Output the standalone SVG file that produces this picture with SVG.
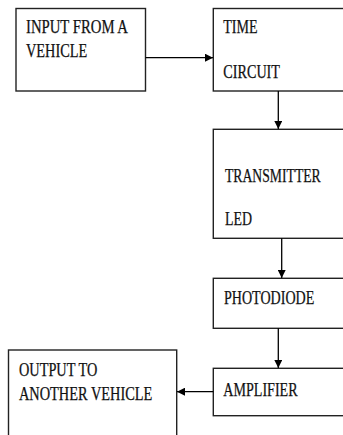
<svg xmlns="http://www.w3.org/2000/svg" width="343" height="435" viewBox="0 0 343 435">
<style>
.box{fill:#fff;stroke:#222;stroke-width:1.4}
.t{font-family:"Liberation Serif","Times New Roman",serif;font-size:18px;fill:#111;stroke:#111;stroke-width:0.25}
.c{stroke:#000;stroke-width:1.3;fill:none}
</style>
<defs>
<marker id="ah" viewBox="0 0 10 10" refX="10" refY="5" markerWidth="8" markerHeight="8" markerUnits="userSpaceOnUse" orient="auto">
<path d="M0,0 L10,5 L0,10 z" fill="#000"/>
</marker>
</defs>
<rect width="343" height="435" fill="#fff"/>
<g id="input">
<rect class="box" x="16" y="8.5" width="129.5" height="82.5"/>
<text class="t" x="26" y="33.3" textLength="102" lengthAdjust="spacingAndGlyphs">INPUT FROM A</text>
<text class="t" x="26" y="57.3" textLength="61.3" lengthAdjust="spacingAndGlyphs">VEHICLE</text>
</g>
<g id="time">
<rect class="box" x="213.3" y="8.5" width="140" height="82.5"/>
<text class="t" x="223.3" y="33.3" textLength="34.3" lengthAdjust="spacingAndGlyphs">TIME</text>
<text class="t" x="223.3" y="77.7" textLength="56.7" lengthAdjust="spacingAndGlyphs">CIRCUIT</text>
</g>
<g id="transmitter">
<rect class="box" x="213.3" y="129.3" width="140" height="109"/>
<text class="t" x="225" y="181.7" textLength="95.7" lengthAdjust="spacingAndGlyphs">TRANSMITTER</text>
<text class="t" x="225" y="225" textLength="27" lengthAdjust="spacingAndGlyphs">LED</text>
</g>
<g id="photodiode">
<rect class="box" x="213.3" y="278.3" width="140" height="50"/>
<text class="t" x="224" y="304.3" textLength="90.3" lengthAdjust="spacingAndGlyphs">PHOTODIODE</text>
</g>
<g id="amplifier">
<rect class="box" x="213.3" y="368.3" width="140" height="47.4"/>
<text class="t" x="223.3" y="395.7" textLength="74.3" lengthAdjust="spacingAndGlyphs">AMPLIFIER</text>
</g>
<g id="output">
<rect class="box" x="8.5" y="350" width="168.2" height="100"/>
<text class="t" x="19" y="375.7" textLength="78.3" lengthAdjust="spacingAndGlyphs">OUTPUT TO</text>
<text class="t" x="19" y="400" textLength="133.3" lengthAdjust="spacingAndGlyphs">ANOTHER VEHICLE</text>
</g>
<g id="connectors">
<line class="c" x1="145.5" y1="57.7" x2="213" y2="57.7" marker-end="url(#ah)"/>
<line class="c" x1="278.3" y1="91" x2="278.3" y2="129" marker-end="url(#ah)"/>
<line class="c" x1="281.7" y1="238.3" x2="281.7" y2="278" marker-end="url(#ah)"/>
<line class="c" x1="278.3" y1="328.3" x2="278.3" y2="368" marker-end="url(#ah)"/>
<line class="c" x1="213.3" y1="391.7" x2="177" y2="391.7" marker-end="url(#ah)"/>
</g>
</svg>
